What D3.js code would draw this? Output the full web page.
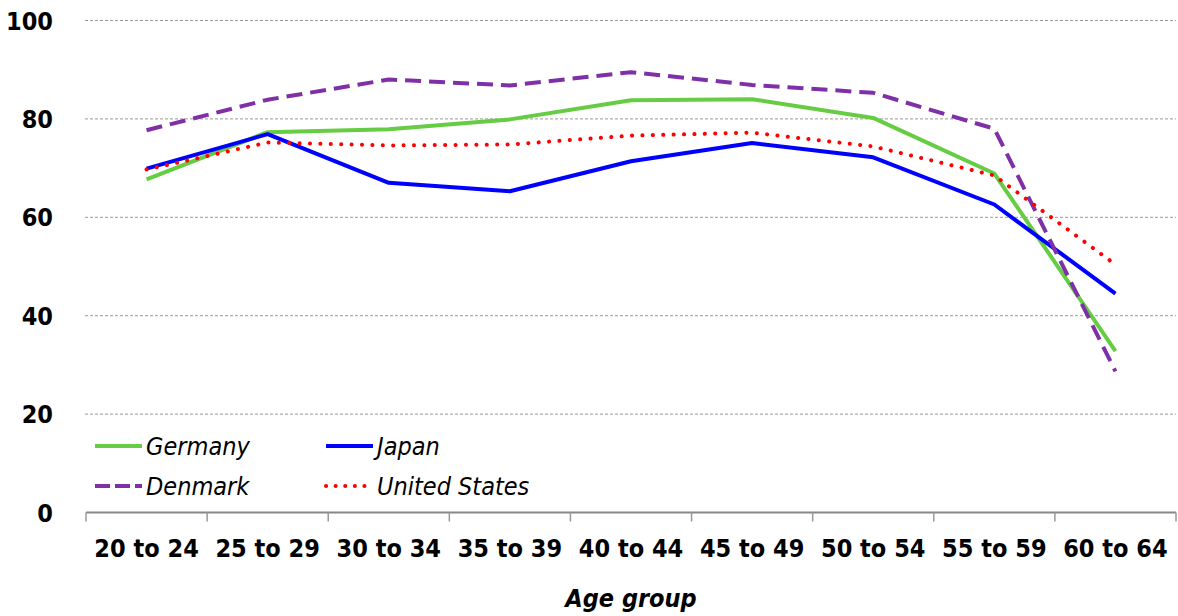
<!DOCTYPE html>
<html>
<head>
<meta charset="utf-8">
<script src="https://cdn.jsdelivr.net/npm/d3@7"></script>
<style>
  html, body { margin: 0; padding: 0; background: #fff; }
  svg { display: block; }
  text { font-family: "DejaVu Sans Condensed", "DejaVu Sans", sans-serif; fill: #000; }
</style>
</head>
<body>
<svg id="chart" width="1178" height="616"></svg>
<script>
const categories = ["20 to 24", "25 to 29", "30 to 34", "35 to 39", "40 to 44", "45 to 49", "50 to 54", "55 to 59", "60 to 64"];
const germany = [67.7, 77.3, 77.9, 79.9, 83.8, 84.0, 80.2, 68.9, 32.8];
const japan = [69.9, 76.9, 67.0, 65.3, 71.4, 75.1, 72.2, 62.6, 44.5];
const denmark = [77.7, 83.9, 88.0, 86.8, 89.5, 86.9, 85.3, 78.0, 28.7];
const unitedStates = [69.7, 75.2, 74.6, 74.8, 76.6, 77.2, 74.4, 68.5, 50.4];
const yTicks = [0, 20, 40, 60, 80, 100];

const seriesNames = ["Germany", "Japan", "Denmark", "United States"];
const seriesValues = [germany, japan, denmark, unitedStates];
const seriesStyle = {
  "Germany": { color: "#66CC44", dash: null, cap: "butt" },
  "Japan": { color: "#0000FF", dash: null, cap: "butt" },
  "Denmark": { color: "#7F30A6", dash: "16,8", cap: "butt" },
  "United States": { color: "#FF0000", dash: "0.1,10.3", cap: "round" }
};

const svg = d3.select("#chart");
const mLeft = 86, mRight = 1176, mTop = 20.5, mBottom = 512.5;

const x = d3.scaleBand().domain(categories).range([mLeft, mRight]).paddingInner(0).paddingOuter(0);
const y = d3.scaleLinear().domain([0, 100]).range([mBottom, mTop]);

// gridlines
svg.append("g")
  .selectAll("line")
  .data(yTicks.filter(d => d > 0))
  .join("line")
  .attr("x1", mLeft - 1).attr("x2", mRight)
  .attr("y1", d => y(d)).attr("y2", d => y(d))
  .attr("stroke", "#999").attr("stroke-width", 1).attr("stroke-dasharray", "3,2");

// y labels
svg.append("g")
  .selectAll("text")
  .data(yTicks)
  .join("text")
  .attr("x", 53).attr("y", d => y(d))
  .attr("dy", "0.36em")
  .attr("text-anchor", "end")
  .attr("font-size", 25)
  .attr("font-weight", "bold")
  .text(d => d);

// x axis
const xAxis = d3.axisBottom(x).tickSize(0).tickFormat(d => d);
const gx = svg.append("g").attr("transform", `translate(0,${mBottom})`).call(xAxis);
gx.select(".domain").remove();
gx.selectAll("text")
  .attr("y", 27)
  .attr("font-size", 25)
  .attr("font-weight", "bold")
  .style("font-family", '"DejaVu Sans Condensed", "DejaVu Sans", sans-serif')
  .attr("fill", "#000");
svg.append("line")
  .attr("x1", mLeft).attr("x2", mRight)
  .attr("y1", mBottom).attr("y2", mBottom)
  .attr("stroke", "#888").attr("stroke-width", 2);
const boundaries = categories.map(c => x(c)).concat([x(categories[categories.length - 1]) + x.bandwidth()]);
svg.append("g")
  .selectAll("line")
  .data(boundaries)
  .join("line")
  .attr("x1", d => d).attr("x2", d => d)
  .attr("y1", mBottom).attr("y2", mBottom + 9)
  .attr("stroke", "#999").attr("stroke-width", 1.5);

// axis title
svg.append("text")
  .attr("x", (mLeft + mRight) / 2).attr("y", 607)
  .attr("text-anchor", "middle")
  .attr("font-size", 25)
  .attr("font-weight", "bold")
  .attr("font-style", "italic")
  .text("Age group");

// lines
const line = d3.line()
  .x((d, i) => x(categories[i]) + x.bandwidth() / 2)
  .y(d => y(d));

const drawOrder = ["Germany", "Japan", "Denmark", "United States"];
drawOrder.forEach(name => {
  const vals = seriesValues[seriesNames.indexOf(name)];
  const st = seriesStyle[name];
  svg.append("path")
    .datum(vals)
    .attr("d", line)
    .attr("fill", "none")
    .attr("stroke", st.color)
    .attr("stroke-width", 4)
    .attr("stroke-linejoin", "round")
    .attr("stroke-linecap", st.cap)
    .attr("stroke-dasharray", st.dash);
});

// legend
const legendPos = [
  { name: "Germany", lx: 95, ly: 446 },
  { name: "Japan", lx: 326, ly: 446 },
  { name: "Denmark", lx: 95, ly: 486 },
  { name: "United States", lx: 326, ly: 486 }
];
const lg = svg.append("g");
legendPos.forEach(p => {
  const st = seriesStyle[p.name];
  lg.append("line")
    .attr("x1", p.lx).attr("x2", p.lx + 47)
    .attr("y1", p.ly).attr("y2", p.ly)
    .attr("stroke", st.color).attr("stroke-width", 4)
    .attr("stroke-linecap", st.cap)
    .attr("stroke-dasharray", p.name === "United States" ? "0.1,9.5" : (p.name === "Denmark" ? "15,5" : null));
  lg.append("text")
    .attr("x", p.lx + 51).attr("y", p.ly)
    .attr("dy", "0.36em")
    .attr("font-size", 25)
    .attr("font-style", "italic")
    .text(p.name);
});
</script>
</body>
</html>
